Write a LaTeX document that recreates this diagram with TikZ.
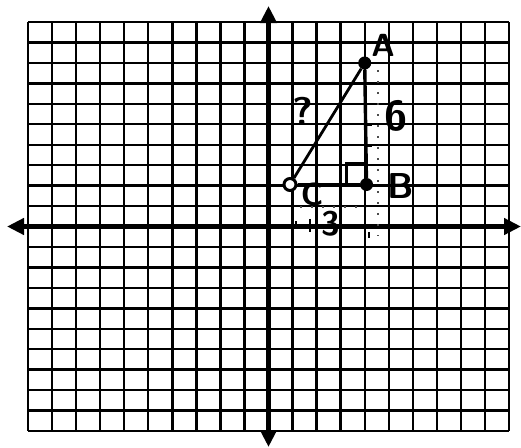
\documentclass[tikz,border=0pt]{standalone}
\usetikzlibrary{arrows.meta}
\begin{document}
\begin{tikzpicture}[x=1pt,y=-1pt,
  gridline/.style={line width=2.4pt,black},
  axis/.style={line width=5.2pt,black,{Triangle[length=17pt,width=16pt]}-{Triangle[length=17pt,width=16pt]}},
  seg/.style={line width=2.8pt,black},
  dotpt/.style={circle,fill=black,inner sep=0pt,minimum size=13pt},
  opendot/.style={circle,draw=black,line width=3pt,fill=white,inner sep=0pt,minimum size=12pt},
  hand/.style={font=\sffamily,inner sep=0pt},
  faint/.style={line width=2pt,black!70,dash pattern=on 2pt off 9pt},
  tick/.style={line width=2pt,black}]
\useasboundingbox (0,0) rectangle (521,447);
\fill[white] (0,0) rectangle (521,447);
% grid
\foreach \i in {0,...,20}
  \draw[gridline] ({28+24.05*\i},22) -- ({28+24.05*\i},431);
\foreach \j in {0,...,20}
  \draw[gridline] (28,{22+20.45*\j}) -- (509,{22+20.45*\j});
% axes
\coordinate (xl) at (7,226.5);
\coordinate (xr) at (521,226.5);
\coordinate (yt) at (268.5,6);
\coordinate (yb) at (268.5,447);
\draw[axis] (xl) -- (xr);
\draw[axis] (yt) -- (yb);
% faint dotted guides
\coordinate (g1) at (378,70);
\coordinate (g2) at (378,236);
\coordinate (g3) at (300,207);
\coordinate (g4) at (366,207);
\draw[faint] (g1) -- (g2);
\draw[faint] (g3) -- (g4);
% points
\node[dotpt] (A) at (364.7,63) {};
\node[dotpt] (B) at (366.5,184.5) {};
\node[opendot] (C) at (290,184.5) {};
% triangle sides
\draw[seg] (C) -- (A);
\draw[seg,line width=3.4pt] (A) -- (B);
\draw[seg] (C) -- (B);
% right-angle mark
\draw[line width=2.6pt] ([xshift=-20pt]B.center) -- ++(0,-21) -- ++(20,0);
% small tick marks
\foreach \y in {84,104,125,146}
  \draw[tick] (365,\y) -- (372,\y);
\draw[tick] (296,221) -- (296,226);
\draw[tick] (310,219) -- (310,232);
\draw[tick] (369,232) -- (369,238);
% labels
\node[hand,font=\sffamily\bfseries\fontsize{32}{32}\selectfont] (la) at (383,45) {A};
\node[hand,font=\sffamily\bfseries\fontsize{36}{36}\selectfont] (lb) at (401,186) {B};
\node[hand,font=\sffamily\bfseries\fontsize{32}{32}\selectfont] (lc) at (312,194) {C};
\node[hand,font=\sffamily\bfseries\fontsize{42}{42}\selectfont] (l6) at (396,116) {6};
\node[hand,font=\sffamily\bfseries\fontsize{40}{40}\selectfont] (lq) at (303,111) {?};
\node[hand,font=\sffamily\bfseries\fontsize{34}{34}\selectfont] (l3) at (331,224) {3};
\end{tikzpicture}
\end{document}
